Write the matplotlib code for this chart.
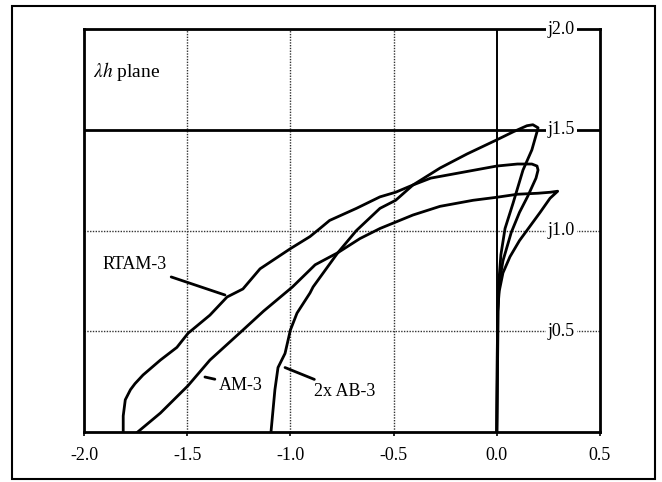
import matplotlib
matplotlib.use("Agg")
import matplotlib.pyplot as plt
from matplotlib.patches import Rectangle

# ---- data ----
rtam_x = [-1.81, -1.81, -1.80, -1.775, -1.753, -1.714, -1.63, -1.55, -1.496, -1.39, -1.307, -1.23,
          -1.147, -1.0, -0.905, -0.857, -0.81, -0.68, -0.566, -0.49, -0.406, -0.32, -0.16, 0.0,
          0.10, 0.17, 0.195, 0.20, 0.19, 0.15, 0.11, 0.07, 0.03, 0.012, 0.004, 0.0]
rtam_y = [0.0, 0.08, 0.16, 0.21, 0.24, 0.283, 0.357, 0.42, 0.49, 0.58, 0.67, 0.71,
          0.81, 0.91, 0.97, 1.01, 1.05, 1.11, 1.167, 1.19, 1.226, 1.26, 1.29, 1.32,
          1.33, 1.33, 1.32, 1.30, 1.26, 1.17, 1.09, 0.99, 0.85, 0.74, 0.6, 0.0]

ab_x = [-1.094, -1.085, -1.075, -1.06, -1.026, -1.0, -0.968, -0.905, -0.89, -0.77, -0.68, -0.566,
        -0.49, -0.406, -0.275, -0.144, 0.0, 0.08, 0.146, 0.175, 0.20, 0.195, 0.17, 0.127, 0.079,
        0.04, 0.02, 0.008, 0.0]
ab_y = [0.0, 0.1, 0.21, 0.32, 0.39, 0.506, 0.59, 0.69, 0.72, 0.89, 1.0, 1.11,
        1.15, 1.226, 1.31, 1.38, 1.45, 1.49, 1.52, 1.525, 1.51, 1.49, 1.40, 1.30, 1.136,
        1.01, 0.88, 0.72, 0.0]

am_x = [-1.74, -1.63, -1.496, -1.39, -1.23, -1.13, -0.99, -0.88, -0.77, -0.663, -0.566, -0.406,
        -0.275, -0.115, 0.0, 0.1, 0.2, 0.26, 0.295, 0.258, 0.21, 0.16, 0.11, 0.064, 0.03,
        0.012, 0.004, 0.0]
am_y = [0.0, 0.094, 0.23, 0.357, 0.506, 0.6, 0.72, 0.83, 0.89, 0.96, 1.01, 1.077,
        1.12, 1.15, 1.165, 1.18, 1.185, 1.19, 1.195, 1.16, 1.09, 1.02, 0.95, 0.87, 0.79,
        0.7, 0.6, 0.0]

x_ticks = [-2.0, -1.5, -1.0, -0.5, 0.0, 0.5]
x_labels = ["-2.0", "-1.5", "-1.0", "-0.5", "0.0", "0.5"]
y_vals = [0.5, 1.0, 1.5, 2.0]
y_labels = ["j0.5", "j1.0", "j1.5", "j2.0"]

plt.rcParams['font.family'] = ['Liberation Serif', 'DejaVu Serif']
plt.rcParams['mathtext.fontset'] = 'stix'

fig = plt.figure(figsize=(6.62, 4.82), dpi=100)
ax = fig.add_axes([0.1269, 0.1037, 0.9063 - 0.1269, 0.9398 - 0.1037])
ax.set_xlim(-2.0, 0.5)
ax.set_ylim(0.0, 2.0)

# outer frame
fig.patches.append(Rectangle((0.018, 0.0062), 0.989 - 0.018, 0.9876 - 0.0062,
                             transform=fig.transFigure, fill=False, lw=1.5, ec='black'))

dot = (0, (1, 1))
for xv in [-1.5, -1.0, -0.5]:
    ax.axvline(xv, color='#333333', lw=1.0, ls=dot, zorder=1)
for yv in [0.5, 1.0]:
    ax.axhline(yv, color='#333333', lw=1.0, ls=dot, zorder=1)
ax.axhline(1.5, color='black', lw=2.0, zorder=1)
ax.axvline(0.0, color='black', lw=1.4, zorder=1)

for s in ax.spines.values():
    s.set_linewidth(2.0)

lw = 2.0
ax.plot(rtam_x, rtam_y, color='black', lw=lw, zorder=3, solid_joinstyle='round')
ax.plot(ab_x, ab_y, color='black', lw=lw, zorder=3, solid_joinstyle='round')
ax.plot(am_x, am_y, color='black', lw=lw, zorder=3, solid_joinstyle='round')

ax.set_xticks(x_ticks)
ax.set_xticklabels(x_labels)
ax.set_yticks([])
ax.tick_params(axis='x', direction='out', length=3, width=1.2, pad=8, labelsize=13)

for yv, lab in zip(y_vals, y_labels):
    ax.text(0.313, yv, lab, ha='center', va='center', fontsize=13, zorder=6, clip_on=False,
            bbox=dict(facecolor='white', edgecolor='none', pad=1.5))

ax.text(-1.955, 1.79, r"$\lambda h$ plane", fontsize=14, ha='left', va='center', zorder=6)

# annotations
ax.annotate("RTAM-3", xy=(-1.317, 0.68), xytext=(-1.753, 0.83), fontsize=13,
            ha='center', va='center',
            arrowprops=dict(arrowstyle='-', lw=2.0, color='black', shrinkA=2, shrinkB=0))
ax.annotate("AM-3", xy=(-1.414, 0.273), xytext=(-1.346, 0.233), fontsize=13,
            ha='left', va='center',
            arrowprops=dict(arrowstyle='-', lw=2.0, color='black', shrinkA=1, shrinkB=0))
ax.annotate("2x AB-3", xy=(-1.026, 0.32), xytext=(-0.885, 0.20), fontsize=13,
            ha='left', va='center',
            arrowprops=dict(arrowstyle='-', lw=2.0, color='black', shrinkA=2, shrinkB=0))

fig.savefig("out.png", dpi=100)
